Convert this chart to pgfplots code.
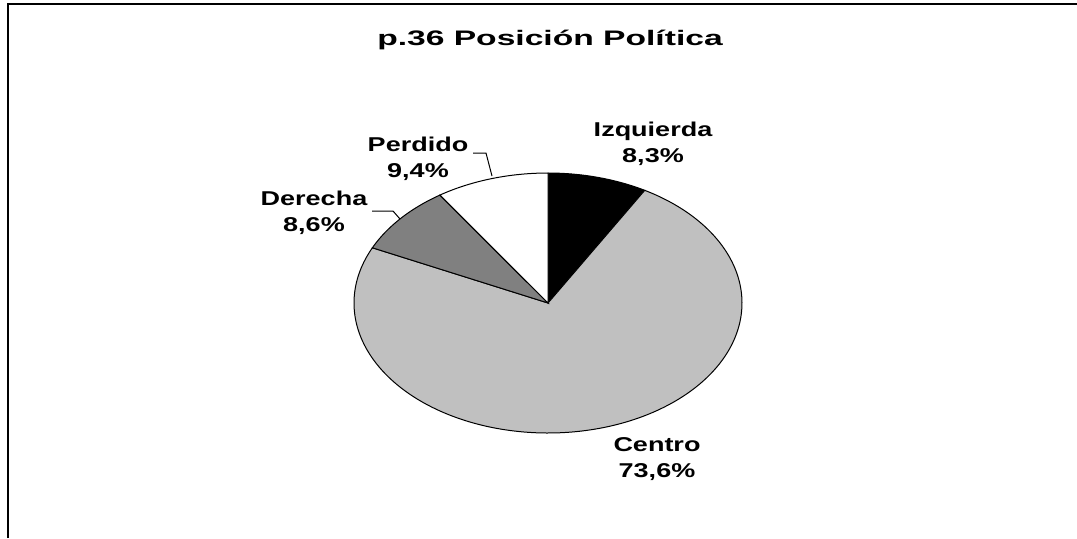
\documentclass[border=0pt]{standalone}
\usepackage{pgfplots}
\pgfplotsset{compat=1.18}
\usepackage{fontspec}
\setmainfont{Liberation Sans}
\definecolor{centro}{HTML}{C0C0C0}
\definecolor{derecha}{HTML}{808080}

% shares of each answer (percent)
\def\vIzq{8.3}
\def\vCen{73.6}
\def\vDer{8.6}
\def\vPer{9.4}

% the reference is stretched sideways
\newcommand\sx[1]{\scalebox{1.35}[1]{#1}}

\begin{document}
\begin{tikzpicture}
\pgfmathsetmacro\tot{\vIzq+\vCen+\vDer+\vPer}
\pgfmathsetmacro\aA{\vIzq/\tot*360}
\pgfmathsetmacro\aB{\aA+\vCen/\tot*360}
\pgfmathsetmacro\aC{\aB+\vDer/\tot*360}
\begin{axis}[
    hide axis,
    scale only axis,
    width=538.5pt, height=269pt,
    xmin=0, xmax=1077, ymin=0, ymax=538,
    y dir=reverse,
    clip=false,
    variable=\t, samples=60,
    every axis plot/.append style={draw=black, line width=0.5pt},
]
\addplot[fill=black, domain=0:\aA] ({548+194*sin(t)}, {303-130*cos(t)}) -- (548,303) -- cycle;
\addplot[fill=centro, domain=\aA:\aB, samples=200] ({548+194*sin(t)}, {303-130*cos(t)}) -- (548,303) -- cycle;
\addplot[fill=derecha, domain=\aB:\aC] ({548+194*sin(t)}, {303-130*cos(t)}) -- (548,303) -- cycle;
\addplot[fill=white, domain=\aC:360] ({548+194*sin(t)}, {303-130*cos(t)}) -- (548,303) -- cycle;

% frame
\draw[line width=1.1pt] (8,538) -- (8,4) -- (1077,4);

% title
\node[font=\bfseries\fontsize{10.5pt}{12pt}\selectfont] at (550,40) {\scalebox{1.6}[1]{p.36 Posición Política}};

% labels
\tikzset{lbl/.style={font=\bfseries\fontsize{10pt}{12.8pt}\selectfont, align=center}}
\node[lbl] at (653,144) {\sx{Izquierda}\\\sx{8,3\%}};
\node[lbl] at (657,459) {\sx{Centro}\\\sx{73,6\%}};
\node[lbl] at (314,213) {\sx{Derecha}\\\sx{8,6\%}};
\node[lbl] at (418,159) {\sx{Perdido}\\\sx{9,4\%}};

% leader lines
\draw[line width=0.5pt] (372,211) -- (393,211) -- (400,219);
\draw[line width=0.5pt] (473,153) -- (486,153) -- (492,176);
\end{axis}
\pgfresetboundingbox
\path (current axis.south west) rectangle (current axis.north east);
\end{tikzpicture}
\end{document}
